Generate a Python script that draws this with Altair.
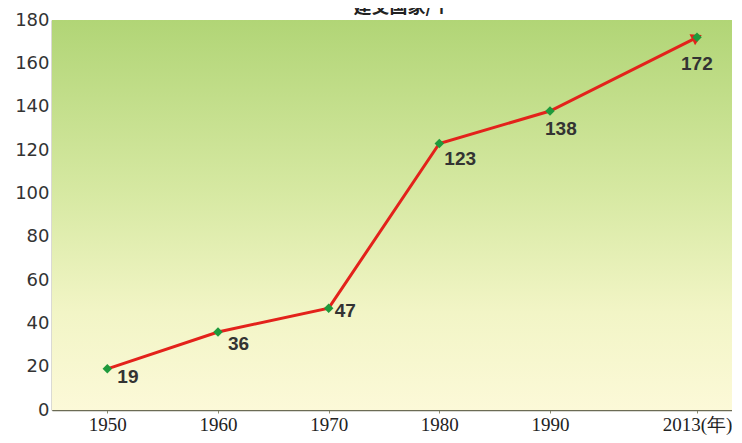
import altair as alt
import pandas as pd

# ---- data ----
years = [1950, 1960, 1970, 1980, 1990, 2013]
counts = [19, 36, 47, 123, 138, 172]
y_ticks = [0, 20, 40, 60, 80, 100, 120, 140, 160, 180]
x_tick_labels = ["1950", "1960", "1970", "1980", "1990", "2013(年)"]
title_text = "建交国家/个"

df = pd.DataFrame({"year": years, "count": counts, "label": [str(c) for c in counts]})

W, H = 680, 390
xscale = alt.Scale(domain=[1945, 1990, 2013, 2018.5], range=[0, 498, 645, 680])
yscale = alt.Scale(domain=[0, 180], nice=False)

label_expr = " : ".join(
    [f"datum.value == {y} ? '{l}'" for y, l in zip(years, x_tick_labels)]
) + " : ''"

x_enc = alt.X("year:Q", scale=xscale, axis=alt.Axis(
    values=years, labelExpr=label_expr, title=None, grid=False,
    labelFont="Liberation Serif", labelFontSize=19, labelColor="#222",
    domainColor="#6b6b55", domainWidth=1.5, tickColor="#8a8a70", tickSize=3,
    labelPadding=2, labelFlush=False))
y_enc = alt.Y("count:Q", scale=yscale, axis=alt.Axis(
    values=y_ticks, title=None, grid=False, ticks=False,
    labelFont="DejaVu Sans", labelFontSize=18, labelColor="#333",
    domainColor="#6b6b55", domainWidth=1.5, labelPadding=3))

grad = alt.LinearGradient(
    gradient="linear", x1=0, x2=0, y1=0, y2=1,
    stops=[alt.GradientStop(color="#b1d576", offset=0),
           alt.GradientStop(color="#d7e9a3", offset=0.45),
           alt.GradientStop(color="#f2f5c6", offset=0.75),
           alt.GradientStop(color="#fcf9d8", offset=1)])

bg = alt.Chart(pd.DataFrame({"a": [0]})).mark_rect(color=grad).encode(
    x=alt.value(0), x2=alt.value(W), y=alt.value(0), y2=alt.value(H))

line = alt.Chart(df).mark_line(color="#e3221b", strokeWidth=3).encode(x=x_enc, y=y_enc)

# arrowhead at the end of the line (under the last marker)
arrow = alt.Chart(df).transform_filter(alt.datum.year == years[-1]).mark_point(
    shape="triangle-right", filled=True, size=150, angle=333, color="#e3221b", opacity=1
).encode(x=alt.X("year:Q", scale=xscale), y=alt.Y("count:Q", scale=yscale))

points = alt.Chart(df).mark_point(shape="diamond", filled=True, size=90,
                                  color="#1e9a3c", opacity=1).encode(
    x=alt.X("year:Q", scale=xscale), y=alt.Y("count:Q", scale=yscale))

# label placement offsets (style only)
offsets = {1950: (10, 8), 1960: (10, 12), 1970: (6, 3),
           1980: (5, 15), 1990: (-5, 18), 2013: (-16, 27)}
labels = []
for yr, (dx, dy) in offsets.items():
    labels.append(
        alt.Chart(df).transform_filter(alt.datum.year == yr).mark_text(
            align="left", baseline="middle", dx=dx, dy=dy,
            font="Liberation Sans", fontSize=19, fontWeight="bold", color="#333"
        ).encode(x=alt.X("year:Q", scale=xscale),
                 y=alt.Y("count:Q", scale=yscale), text="label:N"))

title = alt.Chart(pd.DataFrame({"t": [title_text]})).mark_text(
    align="center", baseline="middle", font="Noto Sans CJK SC",
    fontSize=18, fontWeight="bold", color="#222"
).encode(text="t:N", x=alt.value(350), y=alt.value(-12))

chart = alt.layer(bg, line, arrow, points, *labels, title).properties(
    width=W, height=H,
    padding={"left": 44, "top": 12, "right": 0, "bottom": 25},
    autosize=alt.AutoSizeParams(type="none"),
).configure_view(stroke=None).configure(background="white")

chart.save("out.html", embed_options={"renderer": "svg", "actions": False})
